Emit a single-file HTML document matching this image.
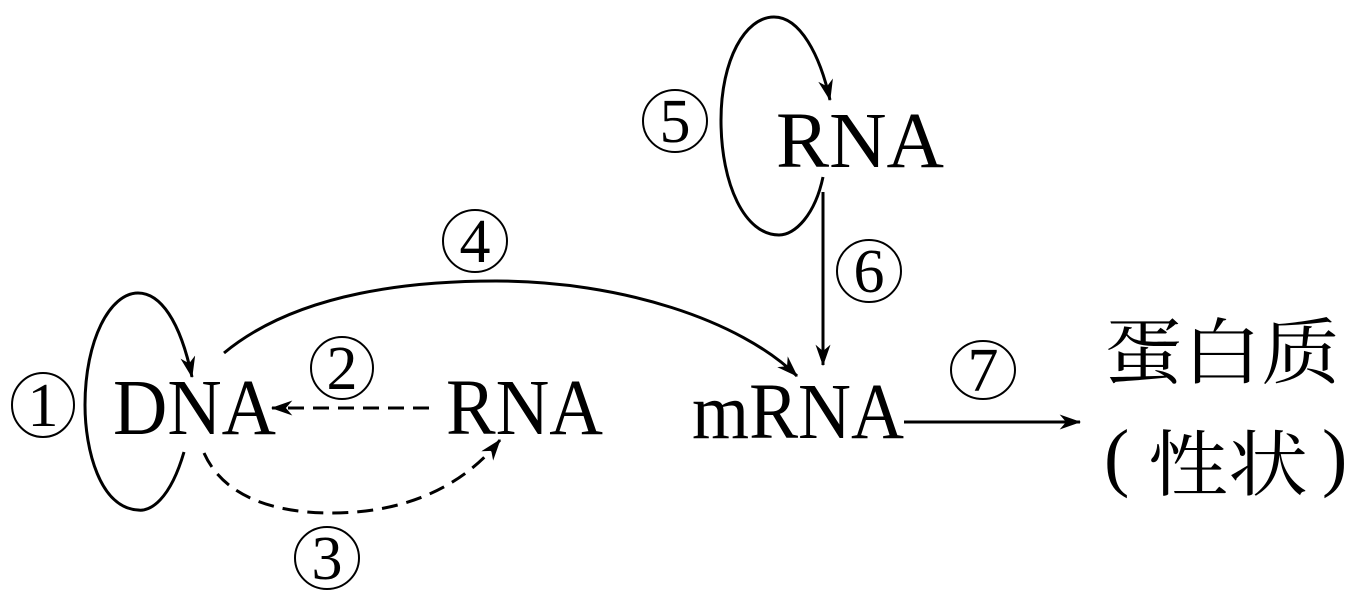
<!DOCTYPE html>
<html><head><meta charset="utf-8"><style>
html,body{margin:0;padding:0;background:#fff;}
svg{display:block;}
.t{font-family:"Liberation Serif","Noto Serif CJK SC",serif;fill:#000;}
.c{font-family:"Liberation Serif",serif;font-size:62px;fill:#000;text-anchor:middle;}
.cjk{font-family:"Noto Serif CJK SC","Noto Sans CJK SC",serif;fill:#000;font-size:72px;}
</style></head><body>
<svg width="1358" height="594" viewBox="0 0 1358 594" xmlns="http://www.w3.org/2000/svg">
<defs>
<marker id="a" viewBox="0 0 20 14" refX="19" refY="7" markerWidth="22" markerHeight="15" markerUnits="userSpaceOnUse" orient="auto">
<path d="M0,0 L20,7 L0,14 L6,7 Z" fill="#000"/>
</marker>
</defs>
<g fill="none" stroke="#000" stroke-width="3">
<path d="M184,452 C170,500 150,512 138,510 C100,508 85,450 85,405 C85,340 110,293 138,293 C160,293 180,320 192,377" marker-end="url(#a)"/>
<path d="M429,408 L272,408" stroke-dasharray="16,9" marker-end="url(#a)"/>
<path d="M204,453 C225,500 280,513 332,513 C400,513 460,490 500,440" stroke-dasharray="16,9" marker-end="url(#a)"/>
<path d="M224,353 C300,290 420,281 496,281 C620,281 740,320 797,376" marker-end="url(#a)"/>
<path d="M823,177 C815,215 795,235 779,235 C745,235 721,185 721,120 C721,60 745,17 774,17 C800,17 820,55 830,100" marker-end="url(#a)"/>
<path d="M823,192 L823,365" marker-end="url(#a)"/>
<path d="M904,422 L1080,422" marker-end="url(#a)"/>
</g>
<g fill="none" stroke="#000" stroke-width="2">
<ellipse cx="43" cy="405" rx="31" ry="32"/>
<ellipse cx="342" cy="368" rx="31" ry="31"/>
<ellipse cx="327" cy="558" rx="32" ry="31"/>
<ellipse cx="475" cy="241" rx="32" ry="31"/>
<ellipse cx="675" cy="121" rx="32" ry="31"/>
<ellipse cx="869" cy="271" rx="32" ry="31"/>
<ellipse cx="983" cy="370" rx="32" ry="29"/>
</g>
<text class="c" x="43" y="426">1</text>
<text class="c" x="342" y="389">2</text>
<text class="c" x="327" y="579">3</text>
<text class="c" x="475" y="262">4</text>
<text class="c" x="675" y="142">5</text>
<text class="c" x="869" y="292">6</text>
<text class="c" x="983" y="391">7</text>
<text class="t" x="113" y="434" font-size="79" textLength="163" lengthAdjust="spacingAndGlyphs">DNA</text>
<text class="t" x="446" y="434" font-size="79" textLength="157" lengthAdjust="spacingAndGlyphs">RNA</text>
<text class="t" x="776" y="167" font-size="79" textLength="168" lengthAdjust="spacingAndGlyphs">RNA</text>
<text class="t" x="692" y="438" font-size="79" textLength="212" lengthAdjust="spacingAndGlyphs">mRNA</text>
<text class="cjk" x="1104" y="378" textLength="236" lengthAdjust="spacingAndGlyphs">蛋白质</text>
<text class="t" x="1104" y="482" font-size="76">(</text>
<text class="cjk" x="1148" y="490" textLength="160" lengthAdjust="spacingAndGlyphs">性状</text>
<text class="t" x="1322" y="482" font-size="76">)</text>
</svg>
</body></html>
